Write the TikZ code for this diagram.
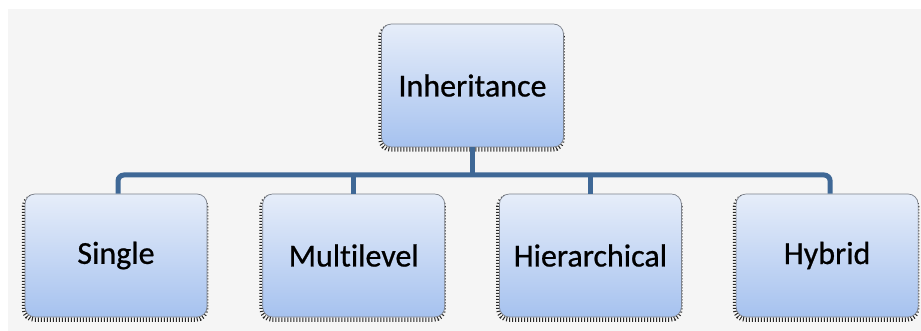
\documentclass[tikz,border=0pt]{standalone}
\usepackage{fontspec}
\setmainfont{Carlito}
\newfontfamily\boxfont[Ligatures=NoCommon, FakeBold=0.7]{Carlito}
\usepackage{tikz}
\usetikzlibrary{positioning}
\definecolor{bgback}{HTML}{F5F5F5}
\definecolor{boxtop}{HTML}{E6EDF9}
\definecolor{boxbot}{HTML}{A6C2EF}
\definecolor{boxline}{HTML}{7D828C}
\definecolor{busblue}{HTML}{3F6896}

\begin{document}
\begin{tikzpicture}[
            x=1pt, y=-1pt,
            node distance=55pt,
            kind/.style={rectangle, rounded corners=10pt, draw=boxline, line width=0.7pt,
                top color=boxtop, bottom color=boxbot,
                minimum width=182pt, minimum height=123pt, inner sep=0pt,
                font=\boxfont\fontsize{32}{38}\selectfont,
                preaction={draw=black!85, line width=4.5pt, dash pattern=on 1pt off 2pt,
                    transform canvas={xshift=-1pt, yshift=-2.5pt}}},
            bus/.style={draw=busblue, line width=5pt, rounded corners=6pt},
        ]
            \useasboundingbox (0,0) rectangle (921,331);
            \fill[white] (0,0) rectangle (921,331);
            \fill[bgback] (8,9) rectangle (921,331);

            \node[kind] (inherit) at (472.5,85.5) {Inheritance};

            \node[kind] (single) at (116,255.5) {Single};
            \node[kind, right=55pt of single] (multi) {Multilevel};
            \node[kind, right=54pt of multi] (hier) {Hierarchical};
            \node[kind, right=54pt of hier] (hybrid) {Hybrid};

            \coordinate (junction) at (472.5,175);

            \draw[bus] (inherit.south) -- (junction);
            \draw[bus] ([xshift=2pt]single.north) |- (junction) -| ([xshift=3pt]hybrid.north);
            \draw[bus] (multi.north) -- (multi.north |- junction);
            \draw[bus] (hier.north) -- (hier.north |- junction);
        \end{tikzpicture}
\end{document}
